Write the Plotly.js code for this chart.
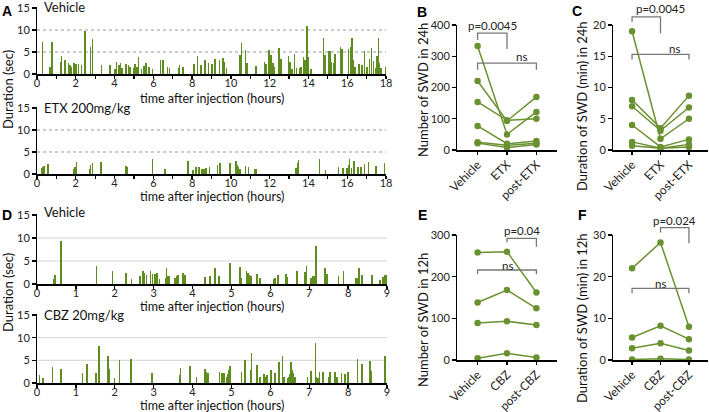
<!DOCTYPE html>
<html><head><meta charset="utf-8">
<script src="https://cdn.plot.ly/plotly-3.0.1.min.js"></script>
<style>body{margin:0;padding:0;background:#fff}#chart{width:709px;height:412px}</style>
</head><body><div id="chart"></div>
<script>
// ---------- DATA ----------
// Panel A: 24 h recordings (hour of SWD onset, SWD duration in s)
const vehA_hours = [0.29,0.67,0.78,1.22,1.27,1.45,1.62,1.70,1.79,1.91,2.00,2.13,2.30,2.48,2.77,2.87,3.34,3.77,4.03,4.10,4.22,4.32,4.37,4.42,4.60,4.72,4.80,4.98,5.06,5.15,5.23,5.40,5.53,5.61,5.78,5.97,6.38,6.49,6.73,6.82,7.30,7.35,7.52,8.10,8.28,8.45,8.67,8.85,9.02,9.19,9.42,9.59,9.66,9.76,10.48,10.56,10.74,10.83,11.30,11.72,11.80,11.96,12.06,12.16,12.25,12.49,12.58,12.97,13.06,13.14,13.28,13.37,13.54,13.61,13.75,13.82,13.92,13.99,14.13,14.78,14.86,15.03,15.12,15.20,15.32,15.38,15.64,15.72,16.07,16.16,16.24,16.33,16.41,16.60,16.76,16.88,17.02,17.15,17.24,17.36,17.45,17.53,17.62,17.67,17.74,17.96];
const vehA_dur   = [7.2,1.7,7.2,2.8,4.1,3.2,2.5,2.1,1.7,2.6,2.3,2.2,2.1,9.8,6.1,8.0,2.1,2.1,1.1,2.7,2.1,2.5,1.3,1.3,2.2,2.1,1.7,1.3,2.2,1.7,3.8,1.1,1.9,2.6,1.7,1.2,3.2,3.2,1.5,1.3,1.3,2.1,1.5,2.2,4.0,2.0,3.1,2.5,2.3,3.4,3.2,3.6,2.8,1.3,4.4,7.1,5.5,2.5,1.9,2.8,2.3,5.4,4.4,2.6,1.7,5.9,3.4,4.2,2.8,1.1,4.6,1.3,1.3,1.7,3.8,3.2,10.8,3.8,1.1,8.2,4.4,5.2,5.2,2.8,2.5,4.6,6.2,5.7,5.7,6.2,8.2,3.2,1.7,2.3,2.1,5.2,1.7,3.4,5.9,3.0,1.3,4.0,8.2,2.5,1.3,1.7];
const etx_hours  = [0.24,0.29,0.35,0.57,1.88,1.96,2.05,2.70,2.77,2.86,3.29,4.58,4.66,5.97,6.61,7.78,8.04,8.19,8.36,8.50,8.62,8.72,8.89,9.31,9.44,9.96,10.27,10.34,10.39,10.48,10.74,10.91,11.25,11.33,13.36,13.43,13.49,14.58,14.87,15.56,15.78,15.98,16.07,16.12,16.22,16.35,16.55,16.72,16.88,17.10,17.48,17.92];
const etx_dur    = [1.4,1.7,1.9,2.3,1.2,1.5,2.7,1.2,2.1,2.4,2.7,1.9,1.7,3.3,1.2,3.0,1.0,1.7,1.5,1.2,1.2,1.4,1.7,2.1,2.5,2.5,2.9,2.1,1.7,1.2,1.9,1.7,1.2,1.2,1.4,2.5,3.1,3.3,1.0,1.5,1.4,1.4,2.1,3.5,1.3,2.9,1.7,1.5,2.2,2.8,1.9,2.4];
// Panel D: 9 h recordings
const vehD_hours = [0.42,0.46,0.61,1.53,1.94,2.29,2.43,2.65,2.72,2.75,2.82,2.92,2.97,3.03,3.08,3.10,3.15,3.31,3.33,3.36,3.40,3.55,3.59,3.63,3.76,3.81,4.32,4.45,4.58,4.68,4.96,5.22,5.26,5.39,5.43,5.46,5.50,5.65,5.73,6.09,6.12,6.20,6.40,6.43,6.68,6.89,6.93,7.05,7.08,7.12,7.17,7.19,7.40,7.45,7.75,7.88,8.20,8.24,8.28,8.35,8.62,8.82,8.89,8.94,8.97];
const vehD_dur   = [1.0,1.9,9.3,3.9,2.9,2.4,1.0,1.8,2.9,2.4,1.9,2.9,2.1,2.1,2.4,1.6,1.0,1.2,3.5,1.8,1.7,1.2,1.7,1.9,2.4,1.9,1.5,1.8,3.4,1.8,4.6,3.8,1.2,2.8,2.4,1.9,1.7,2.2,1.3,1.0,1.3,1.9,2.2,1.5,2.8,2.6,3.9,1.3,1.8,1.7,8.3,2.1,3.5,2.1,1.7,2.8,1.3,1.3,3.5,1.9,2.0,0.9,1.6,2.0,1.9];
const cbz_hours  = [0.06,0.15,0.40,0.61,1.17,1.29,1.52,1.59,1.82,1.85,1.99,2.12,2.41,2.95,3.66,3.69,3.93,4.10,4.32,4.36,4.40,4.69,4.75,4.81,4.88,4.90,4.94,4.96,5.26,5.35,5.50,5.52,5.65,5.73,5.84,5.88,5.92,6.01,6.12,6.22,6.31,6.35,6.44,6.48,6.50,6.53,6.57,6.59,6.64,6.95,7.04,7.16,7.19,7.23,7.26,7.36,7.49,7.53,7.66,7.71,7.83,7.92,8.00,8.24,8.35,8.56,8.60,8.95];
const cbz_dur    = [1.7,1.2,3.5,3.1,2.2,4.2,2.2,8.2,6.0,3.1,1.2,5.1,5.4,2.2,1.7,3.3,3.7,1.3,3.1,2.4,2.2,2.4,2.2,2.2,1.4,2.0,2.8,3.7,2.5,5.1,2.9,6.7,4.0,1.4,1.9,1.4,1.7,2.8,2.2,4.6,6.0,1.4,1.1,1.4,1.9,4.6,2.8,2.2,1.4,1.4,2.6,8.9,1.4,1.2,2.4,2.5,1.4,2.5,2.5,1.4,2.2,1.9,2.4,5.3,4.1,4.8,2.6,5.9];
// Panels B/C (6 animals), E/F (4 animals)
const catsETX = ['Vehicle','ETX','post-ETX'];
const catsCBZ = ['Vehicle','CBZ','post-CBZ'];
const swdCount24 = [[333,50,122],[221,93,170],[154,95,100],[77,20,29],[25,15,22],[22,8,18]];
const swdDur24   = [[19,1.8,5.0],[8,3.5,8.7],[7,3.1,6.8],[4,0.5,1.7],[1.3,0.3,0.9],[0.7,0.3,0.5]];
const swdCount12 = [[258,260,162],[138,168,124],[89,93,84],[4,16,6]];
const swdDur12   = [[22,28.2,8.0],[5.4,8.2,5.0],[2.8,4.0,2.3],[0.1,0.3,0.1]];
const gridVals = [5,10];

// ---------- LAYOUT ----------
const W=709,H=412;
const FONT='Lato, "Liberation Sans", sans-serif';
const BAR='#5e8c1f', LINE='#6a9130', GRAY='#777';
const G = {
 a1:{x:[37,386],y:[7.1,74],xr:[0,18],yr:[0,15.2]},
 a2:{x:[37,386],y:[107.1,174],xr:[0,18],yr:[0,15.2]},
 d1:{x:[37,387],y:[214.1,284],xr:[0,9],yr:[0,15.2]},
 d2:{x:[37,387],y:[314.1,383],xr:[0,9],yr:[0,15.2]},
 b:{x:[457,557],y:[25,150],xr:[-0.7,2.7],yr:[0,400]},
 c:{x:[613,708],y:[25,150],xr:[-0.67,2.67],yr:[0,20]},
 e:{x:[457,557],y:[235,360],xr:[-0.7,2.7],yr:[0,300]},
 f:{x:[613,708],y:[235,360],xr:[-0.67,2.67],yr:[0,30]}
};
const xd=g=>[g.x[0]/W,g.x[1]/W];
const yd=g=>[1-g.y[1]/H,1-g.y[0]/H];
const gx=(g,v)=>(g.x[0]+(v-g.xr[0])/(g.xr[1]-g.xr[0])*(g.x[1]-g.x[0]))/W;
const gy=(g,v)=>1-(g.y[1]-(v-g.yr[0])/(g.yr[1]-g.yr[0])*(g.y[1]-g.y[0]))/H;

const tickfont={family:FONT,size:11,color:'#222'};
function baseAxis(){return {showline:true,linecolor:'#000',linewidth:1.5,ticks:'outside',ticklen:3.5,tickwidth:1.3,tickcolor:'#000',showgrid:false,zeroline:false,tickfont:tickfont,fixedrange:true};}

const traces=[];
function bars(h,d,xa,ya,w){traces.push({type:'bar',x:h,y:d,width:w,marker:{color:BAR,line:{width:0}},xaxis:xa,yaxis:ya,hoverinfo:'skip'});}
bars(vehA_hours,vehA_dur,'x','y',0.075);
bars(etx_hours,etx_dur,'x2','y2',0.075);
bars(vehD_hours,vehD_dur,'x3','y3',0.04);
bars(cbz_hours,cbz_dur,'x4','y4',0.04);
function lines(cats,arr,xa,ya){arr.forEach(v=>traces.push({type:'scatter',mode:'lines+markers',x:cats,y:v,xaxis:xa,yaxis:ya,line:{color:LINE,width:1.5},marker:{color:LINE,size:6.5},cliponaxis:false,hoverinfo:'skip'}));}
lines(catsETX,swdCount24,'x5','y5');
lines(catsETX,swdDur24,'x6','y6');
lines(catsCBZ,swdCount12,'x7','y7');
lines(catsCBZ,swdDur12,'x8','y8');

const layout={width:W,height:H,margin:{l:0,r:0,t:0,b:0},showlegend:false,paper_bgcolor:'#fff',plot_bgcolor:'rgba(0,0,0,0)',font:{family:FONT,color:'#222'},bargap:0};
const keys=['a1','a2','d1','d2','b','c','e','f'];
keys.forEach((k,i)=>{
  const n=i===0?'':String(i+1);
  const g=G[k];
  const xa=baseAxis(), ya=baseAxis();
  xa.domain=xd(g); ya.domain=yd(g); xa.anchor='y'+n; ya.anchor='x'+n;
  xa.range=g.xr; ya.range=g.yr;
  if(k==='a1'||k==='a2'){xa.tick0=0;xa.dtick=2;xa.minor={dtick:1,ticks:'outside',ticklen:3,tickcolor:'#000',tickwidth:1.2};ya.tickvals=[0,5,10,15];xa.ticklabelstandoff=-5;}
  if(k==='d1'||k==='d2'){xa.tick0=0;xa.dtick=1;ya.tickvals=[0,5,10,15];xa.ticklabelstandoff=-5;}
  if(['b','c','e','f'].includes(k)){
    xa.type='category'; xa.tickangle=-45; xa.tickfont={family:FONT,size:12,color:'#222'};
    xa.categoryarray=(k==='b'||k==='c')?catsETX:catsCBZ; xa.categoryorder='array';
    xa.ticklabelstandoff=-2;
    ya.dtick=(k==='b'||k==='e')?100:(k==='c'?5:10);
  }
  layout['xaxis'+n]=xa; layout['yaxis'+n]=ya;
});

// gridlines
const shapes=[];
[['x','y','dot','#999'],['x2','y2','dot','#999'],['x3','y3','solid','#d4d4d4'],['x4','y4','solid','#d4d4d4']].forEach((s,i)=>{
  const g=G[['a1','a2','d1','d2'][i]];
  gridVals.forEach(v=>shapes.push({type:'line',xref:s[0],yref:s[1],x0:g.xr[0],x1:g.xr[1],y0:v,y1:v,layer:'below',line:{color:s[3],width:1,dash:s[2]}}));
});
// significance brackets (category index, data units)
const brackets=[
 ['b',0,1,374,352,323],['b',0,2,278,257,257],
 ['c',0,1,21.3,20.5,18.7],['c',0,2,15.3,14.5,14.5],
 ['e',1,2,292,282.5,272],['e',0,2,216,206,206],
 ['f',1,2,31.75,30.6,28.0],['f',0,2,17.2,16.0,16.0]
];
brackets.forEach(b=>{
  const g=G[b[0]];
  const X0=gx(g,b[1]),X1=gx(g,b[2]),T=gy(g,b[3]),L=gy(g,b[4]),R=gy(g,b[5]);
  shapes.push({type:'path',xref:'paper',yref:'paper',path:`M${X0},${L} L${X0},${T} L${X1},${T} L${X1},${R}`,line:{color:GRAY,width:1.3}});
});
layout.shapes=shapes;

const ann=[];
function txt(x,y,t,opt){ann.push(Object.assign({xref:'paper',yref:'paper',x:x/W,y:1-y/H,text:t,showarrow:false,xanchor:'left',yanchor:'middle',font:{family:FONT,size:13,color:'#111'}},opt||{}));}
// panel letters
[['A',7,11],['D',7,215],['B',422,12],['C',577,11],['E',422,215],['F',582,215]].forEach(p=>txt(p[1],p[2],'<b>'+p[0]+'</b>',{xanchor:'center',font:{family:'"Liberation Sans", Arial, sans-serif',size:14,color:'#000'}}));
// subplot labels
txt(42,7,'Vehicle'); txt(42,108,'ETX 200mg/kg'); txt(42,212,'Vehicle'); txt(42,315,'CBZ 20mg/kg');
// x titles
[[98],[196.5],[306.5],[405.5]].forEach(p=>txt(212,p[0],'time after injection (hours)',{xanchor:'center',font:{family:FONT,size:12.5,color:'#111'}}));
// y titles
txt(8,90,'Duration (sec)',{xanchor:'center',textangle:-90});
txt(8,293,'Duration (sec)',{xanchor:'center',textangle:-90});
txt(423,90,'Number of SWD in 24h',{xanchor:'center',textangle:-90});
txt(582,106,'Duration of SWD (min) in 24h',{xanchor:'center',textangle:-90});
txt(423,320,'Number of SWD in 12h',{xanchor:'center',textangle:-90});
txt(582,318,'Duration of SWD (min) in 12h',{xanchor:'center',textangle:-90});
// significance labels
const sig=[['b',0.5,397,'p=0.0045'],['b',1.5,298,'ns'],['c',1,22.6,'p=0.0045'],['c',1.5,16.3,'ns'],['e',1.5,310,'p=0.04'],['e',1,228,'ns'],['f',1.5,33.4,'p=0.024'],['f',1,18.4,'ns']];
sig.forEach(s=>{const g=G[s[0]];ann.push({xref:'paper',yref:'paper',x:gx(g,s[1]),y:gy(g,s[2]),text:s[3],showarrow:false,xanchor:'center',yanchor:'middle',font:{family:FONT,size:11.5,color:'#222'}});});
layout.annotations=ann;

Plotly.newPlot('chart',traces,layout,{staticPlot:true,displayModeBar:false});
</script></body></html>
